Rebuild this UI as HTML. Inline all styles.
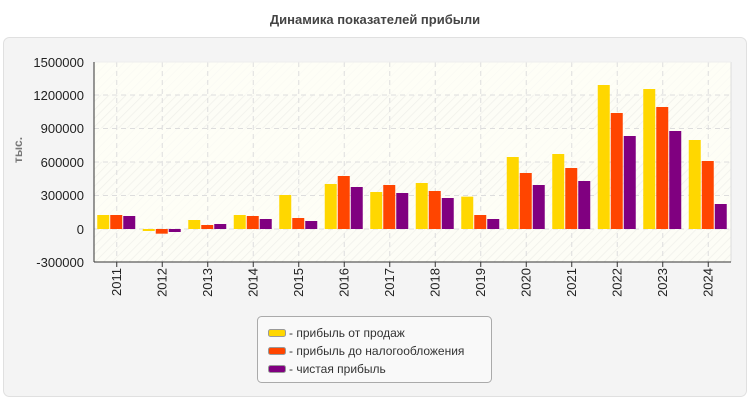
<!DOCTYPE html>
<html><head><meta charset="utf-8"><style>
body{margin:0;background:#fff;width:750px;height:400px;overflow:hidden;font-family:"Liberation Sans",sans-serif}
</style></head><body>
<svg id="s" width="750" height="400" xmlns="http://www.w3.org/2000/svg" font-family="Liberation Sans, sans-serif">
<defs>
<pattern id="h" width="6" height="6" patternUnits="userSpaceOnUse" patternTransform="rotate(45)">
<rect width="6" height="6" fill="#fdfdf6"/><line x1="0" y1="0" x2="0" y2="6" stroke="#f0f0ea" stroke-width="1.5"/>
</pattern>
</defs>
<text x="375" y="24" text-anchor="middle" font-size="13" font-weight="bold" fill="#444">Динамика показателей прибыли</text>
<rect x="3.5" y="37.5" width="743" height="359" rx="6" fill="#f4f4f4" stroke="#e0e0e0"/>
<rect x="94" y="62" width="637" height="200" fill="url(#h)"/>
<rect x="94" y="62" width="637" height="33" fill="#fdfdf6" opacity="0.7"/>
<rect x="94" y="128" width="637" height="34" fill="#fdfdf6" opacity="0.7"/>
<rect x="94" y="195" width="637" height="34" fill="#fdfdf6" opacity="0.7"/>
<g id="grid" stroke="#ddd" stroke-dasharray="5,4"></g>
<line x1="731" y1="62" x2="731" y2="262" stroke="#ddd"/>
<line x1="94" y1="62" x2="731" y2="62" stroke="#eee"/>
<g id="bars"></g>
<line x1="94" y1="62" x2="94" y2="262" stroke="#333"/>
<line x1="94" y1="262" x2="731" y2="262" stroke="#333"/>
<g font-size="13" fill="#222" text-anchor="end">
<text x="84" y="67">1500000</text><text x="84" y="100">1200000</text><text x="84" y="133">900000</text><text x="84" y="167">600000</text><text x="84" y="200">300000</text><text x="84" y="234">0</text><text x="84" y="267">-300000</text>
</g>
<text transform="translate(22,150) rotate(-90)" text-anchor="middle" font-size="12" font-weight="bold" fill="#777">тыс.</text>
<g id="yrs" font-size="13" fill="#222" text-anchor="end">
<text transform="translate(121,268) rotate(-90)">2011</text>
<text transform="translate(166.5,268) rotate(-90)">2012</text>
<text transform="translate(212,268) rotate(-90)">2013</text>
<text transform="translate(257.5,268) rotate(-90)">2014</text>
<text transform="translate(303,268) rotate(-90)">2015</text>
<text transform="translate(348.5,268) rotate(-90)">2016</text>
<text transform="translate(394,268) rotate(-90)">2017</text>
<text transform="translate(439.5,268) rotate(-90)">2018</text>
<text transform="translate(485,268) rotate(-90)">2019</text>
<text transform="translate(530.5,268) rotate(-90)">2020</text>
<text transform="translate(576,268) rotate(-90)">2021</text>
<text transform="translate(621.5,268) rotate(-90)">2022</text>
<text transform="translate(667,268) rotate(-90)">2023</text>
<text transform="translate(712.5,268) rotate(-90)">2024</text>
</g>
<rect x="257.5" y="316.5" width="234" height="66" rx="4" fill="#f9f9f9" stroke="#aaa"/>
<rect x="268.5" y="329.5" width="17" height="7" rx="2" fill="#ffd700" stroke="#999"/>
<rect x="268.5" y="347.5" width="17" height="7" rx="2" fill="#ff4500" stroke="#999"/>
<rect x="268.5" y="365.5" width="17" height="7" rx="2" fill="#800080" stroke="#999"/>
<g font-size="12" fill="#333">
<text x="289" y="337">- прибыль от продаж</text>
<text x="289" y="355">- прибыль до налогообложения</text>
<text x="289" y="373">- чистая прибыль</text>
</g>
</svg>
<script>
var d=[[126,126,117],[-18,-42,-27],[81,36,45],[126,117,90],[306,99,72],[405,477,378],[333,396,324],[414,342,279],[291,126,90],[648,504,396],[675,549,432],[1296,1044,837],[1260,1098,882],[801,612,225]];
var c=["#ffd700","#ff4500","#800080"],ns="http://www.w3.org/2000/svg";
var g=document.getElementById("grid"),b=document.getElementById("bars");
function el(p,t,a){var e=document.createElementNS(ns,t);for(var k in a)e.setAttribute(k,a[k]);p.appendChild(e);}
[95,128.5,162,195.5,229].forEach(function(y){el(g,"line",{x1:94,x2:731,y1:y,y2:y});});
for(var i=0;i<14;i++){var cx=94+45.5*(i+0.5);el(g,"line",{x1:cx,x2:cx,y1:62,y2:262});
el(b,"line",{x1:cx,x2:cx,y1:262,y2:267,stroke:"#333"});
for(var j=0;j<3;j++){var v=d[i][j]*1000/9000,x=cx-19.5+j*13,y=v>=0?229-v:229;
el(b,"rect",{x:x,y:y,width:12,height:Math.abs(v),fill:c[j]});}}
</script>
</body></html>
